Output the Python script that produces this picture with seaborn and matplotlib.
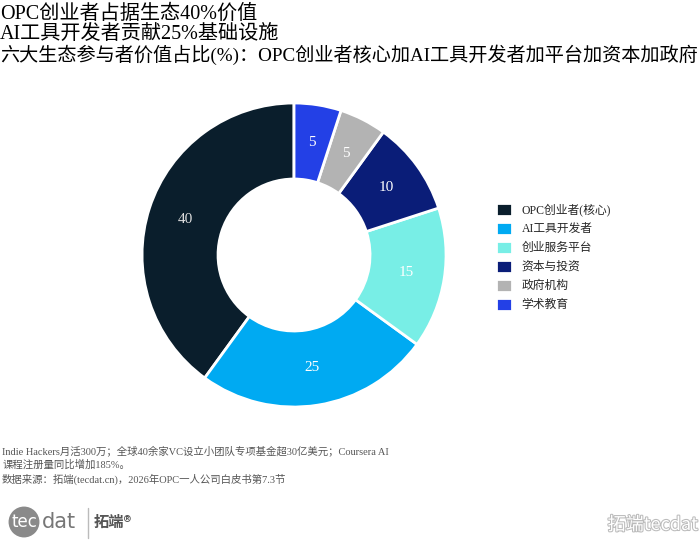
import matplotlib
matplotlib.use('Agg')
import matplotlib.pyplot as plt
import matplotlib.patheffects as pe
import numpy as np
import seaborn as sns

# data
labels = ['OPC创业者(核心)', 'AI工具开发者', '创业服务平台', '资本与投资', '政府机构', '学术教育']
values = [40, 25, 15, 10, 5, 5]
colors = ['#0a1e2c', '#00aaf2', '#78eee6', '#0a1d78', '#b3b3b3', '#2340e6']
label_colors = ['#dddddd', 'white', 'white', 'white', 'white', 'white']

title_lines = ['OPC创业者占据生态40%价值', 'AI工具开发者贡献25%基础设施']
subtitle = '六大生态参与者价值占比(%)：OPC创业者核心加AI工具开发者加平台加资本加政府'
notes = ['Indie Hackers月活300万；全球40余家VC设立小团队专项基金超30亿美元；Coursera AI',
         '课程注册量同比增加185%。',
         '数据来源：拓端(tecdat.cn)，2026年OPC一人公司白皮书第7.3节']

sns.set_theme(style='white')
plt.rcParams['font.family'] = ['Liberation Serif', 'Noto Sans CJK SC', 'DejaVu Sans']

fig = plt.figure(figsize=(7, 5.45), dpi=100)
ax = fig.add_axes([0.2029, 0.2532, 0.4343, 0.5578])

pal = sns.color_palette(colors)
wedges, texts = ax.pie(values, colors=pal, startangle=90, counterclock=True,
                       radius=1.0, wedgeprops=dict(width=0.5, edgecolor='white', linewidth=2))
for w, v, c in zip(wedges, values, label_colors):
    ang = np.deg2rad((w.theta1 + w.theta2) / 2)
    ax.text(0.75 * np.cos(ang), 0.75 * np.sin(ang), str(v), ha='center', va='center',
            fontsize=11, color=c)
ax.set_xlim(-1, 1)
ax.set_ylim(-1, 1)
ax.set_aspect('equal')
ax.axis('off')

fig.legend(wedges, labels, loc='upper left', bbox_to_anchor=(0.702, 0.637), frameon=False,
           fontsize=8.5, handlelength=1.35, handleheight=1.35, labelspacing=0.46,
           handletextpad=0.8, borderaxespad=0)

fig.text(0.0, 1 - 14 / 545, title_lines[0], ha='left', va='center',
         fontsize=14.5, color='black')
fig.text(0.0, 1 - 34 / 545, title_lines[1], ha='left', va='center',
         fontsize=14.5, color='black')
fig.text(0.0, 1 - 55 / 545, subtitle, ha='left', va='center', fontsize=13.8, color='black')

for i, line in enumerate(notes):
    fig.text(0.003, 1 - (445 + i * 14.5) / 545, line, ha='left', va='top', fontsize=7.5,
             color='#555555')

# logo
fig.text(24 / 700, 1 - 522 / 545, 'tec', ha='center', va='center', fontsize=12,
         color='white', family=['DejaVu Sans'],
         bbox=dict(boxstyle='circle,pad=0.15', fc='#8a8a8a', ec='none'))
fig.text(42 / 700, 1 - 522 / 545, 'dat', ha='left', va='center', fontsize=15,
         color='#777777', family=['DejaVu Sans'])
fig.add_artist(plt.Line2D([88 / 700, 88 / 700], [1 - 508 / 545, 1 - 538 / 545],
                          color='#bbbbbb', lw=1))
fig.text(94 / 700, 1 - 522 / 545, '拓端®', ha='left', va='center', fontsize=11,
         color='#555555', family=['Noto Sans CJK SC', 'DejaVu Sans'], weight='bold')

# watermark
fig.text(698 / 700, 1 - 525 / 545, '拓端tecdat', ha='right', va='center', fontsize=13,
         color='white', family=['Noto Sans CJK SC', 'DejaVu Sans'],
         path_effects=[pe.withStroke(linewidth=1.5, foreground='#bbbbbb')])

fig.savefig('out.png', dpi=100)
